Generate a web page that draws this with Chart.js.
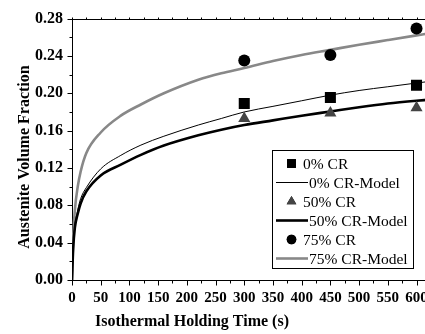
<!DOCTYPE html>
<html>
<head>
<meta charset="utf-8">
<script src="https://cdn.jsdelivr.net/npm/chart.js@4.4.0/dist/chart.umd.min.js"></script>
<style>
  html, body { margin: 0; padding: 0; background: #fff; overflow: hidden; }
  #wrap { position: relative; width: 440px; height: 334px; }
</style>
</head>
<body>
<div id="wrap"><canvas id="austeniteChart" width="440" height="334"></canvas></div>
<script>
// model curves (time in s)
const modelTimes = [0, 2, 5, 10, 15, 25, 50, 85, 120, 160, 220, 260, 300, 350, 400, 450, 500, 550, 600, 620];
const model0CR  = [0, 0.035, 0.058, 0.075, 0.087, 0.099, 0.119, 0.1335, 0.1445, 0.154, 0.166, 0.173, 0.180, 0.186, 0.192, 0.198, 0.203, 0.207, 0.211, 0.2125];
const model50CR = [0, 0.033, 0.056, 0.071, 0.082, 0.095, 0.112, 0.1235, 0.134, 0.144, 0.155, 0.161, 0.166, 0.171, 0.176, 0.1805, 0.185, 0.189, 0.192, 0.193];
const model75CR = [0, 0.045, 0.075, 0.100, 0.116, 0.136, 0.158, 0.176, 0.188, 0.200, 0.2145, 0.2215, 0.227, 0.2345, 0.241, 0.2465, 0.252, 0.257, 0.262, 0.264];

// measured points
const expTimes = [300, 450, 600];
const exp0CR  = [0.189, 0.1955, 0.2085];
const exp50CR = [0.173, 0.179, 0.1845];
const exp75CR = [0.235, 0.241, 0.2695];

// axis ticks
const xTicks = [0, 50, 100, 150, 200, 250, 300, 350, 400, 450, 500, 550, 600];
const yTicks = [0, 0.04, 0.08, 0.12, 0.16, 0.20, 0.24, 0.28];

const legendLabels = ['0% CR', '0% CR-Model', '50% CR', '50% CR-Model', '75% CR', '75% CR-Model'];

const serif = '"Liberation Serif", "Times New Roman", serif';
const toPts = (xs, ys) => xs.map((x, i) => ({ x: x, y: ys[i] }));

const lineSet = (label, ys, color, width) => ({
    type: 'line', label: label, data: toPts(modelTimes, ys),
    borderColor: color, borderWidth: width, pointRadius: 0,
    cubicInterpolationMode: 'monotone', fill: false, order: 2
});
const pointSet = (label, ys, style, color, radius) => ({
    type: 'scatter', label: label, data: toPts(expTimes, ys),
    pointStyle: style, pointRadius: radius, backgroundColor: color,
    borderColor: color, borderWidth: 0, showLine: false, order: 1
});

const datasets = [
    pointSet(legendLabels[0], exp0CR, 'rect', '#000', 7.8),
    lineSet(legendLabels[1], model0CR, '#000', 1),
    pointSet(legendLabels[2], exp50CR, 'triangle', '#444', 7),
    lineSet(legendLabels[3], model50CR, '#000', 2.6),
    pointSet(legendLabels[4], exp75CR, 'circle', '#000', 6),
    lineSet(legendLabels[5], model75CR, '#888', 2.6)
];

// frame, minor ticks, titles and the boxed legend
const decorations = {
    id: 'decorations',
    afterDraw(chart) {
        const ctx = chart.ctx, xs = chart.scales.x, ys = chart.scales.y;
        const left = Math.round(xs.left) + 0.5, bottom = Math.round(ys.bottom) + 0.5, top = Math.round(ys.top) + 0.5;
        ctx.save();
        ctx.strokeStyle = '#000';
        ctx.lineWidth = 1;
        ctx.beginPath();
        ctx.moveTo(left, top); ctx.lineTo(chart.width, top);
        // bottom ticks, every 25 s
        for (let t = 0; t <= 600; t += 25) {
            const px = Math.round(xs.getPixelForValue(t)) + 0.5;
            const len = t % 50 === 0 ? 5 : 3;
            ctx.moveTo(px, bottom); ctx.lineTo(px, bottom + len);
            ctx.moveTo(px, top); ctx.lineTo(px, top - 2);
        }
        // left ticks, every 0.02
        for (let k = 0; k <= 14; k++) {
            const py = Math.round(ys.getPixelForValue(k * 0.02)) + 0.5;
            const len = k % 2 === 0 ? 5 : 3;
            ctx.moveTo(left, py); ctx.lineTo(left - len, py);
        }
        ctx.stroke();

        // axis titles
        ctx.fillStyle = '#000';
        ctx.font = 'bold 16px ' + serif;
        ctx.textAlign = 'center';
        ctx.textBaseline = 'middle';
        ctx.fillText('Isothermal Holding Time (s)', 192, 322);
        ctx.save();
        ctx.translate(25, 157);
        ctx.rotate(-Math.PI / 2);
        ctx.fillText('Austenite Volume Fraction', 0, 0);
        ctx.restore();

        // legend box
        const bx = 272, by = 150, bw = 141, bh = 118;
        ctx.fillStyle = '#fff';
        ctx.fillRect(bx, by, bw, bh);
        ctx.strokeRect(bx + 0.5, by + 0.5, bw, bh);
        ctx.font = '15.5px ' + serif;
        ctx.textAlign = 'left';
        const rowY = [163.5, 182.5, 201.5, 220.5, 239.5, 258.5];
        datasets.forEach((ds, i) => {
            const y = rowY[i];
            ctx.fillStyle = '#000';
            if (ds.type === 'scatter') {
                ctx.fillText(ds.label, 303, y + 1);
                Chart.helpers.drawPoint(ctx, {
                    pointStyle: ds.pointStyle, radius: ds.pointRadius * 0.8, borderWidth: 0
                }, 291.5, y);
                ctx.fillStyle = ds.backgroundColor;
                ctx.fill();
            } else {
                ctx.fillText(ds.label, 309, y + 1);
                ctx.strokeStyle = ds.borderColor;
                ctx.lineWidth = ds.borderWidth;
                ctx.beginPath();
                ctx.moveTo(276, y); ctx.lineTo(308, y);
                ctx.stroke();
            }
        });
        ctx.restore();
    }
};

const ctx = document.getElementById('austeniteChart').getContext('2d');
const austeniteChart = new Chart(ctx, {
    type: 'scatter',
    data: { datasets: datasets },
    options: {
        responsive: false,
        animation: false,
        layout: { padding: { left: 0, top: 15, right: 12, bottom: 0 } },
        plugins: {
            legend: { display: false },
            tooltip: { enabled: false }
        },
        scales: {
            x: {
                type: 'linear', min: 0, max: 620,
                afterFit: s => { s.height = 54; },
                afterBuildTicks: s => { s.ticks = xTicks.map(v => ({ value: v })); },
                grid: { display: true, drawOnChartArea: false, drawTicks: false },
                border: { display: true, color: '#000', width: 1 },
                ticks: {
                    color: '#000', padding: 9, maxRotation: 0, autoSkip: false,
                    font: { family: serif, size: 15, weight: 'bold' },
                    callback: v => String(v)
                }
            },
            y: {
                type: 'linear', min: 0, max: 0.28,
                afterFit: s => { s.width = 72; },
                afterBuildTicks: s => { s.ticks = yTicks.map(v => ({ value: v })); },
                grid: { display: true, drawOnChartArea: false, drawTicks: false },
                border: { display: true, color: '#000', width: 1 },
                ticks: {
                    color: '#000', padding: 9, autoSkip: false,
                    font: { family: serif, size: 16, weight: 'bold' },
                    callback: v => v.toFixed(2)
                }
            }
        }
    },
    plugins: [decorations]
});
</script>
</body>
</html>
